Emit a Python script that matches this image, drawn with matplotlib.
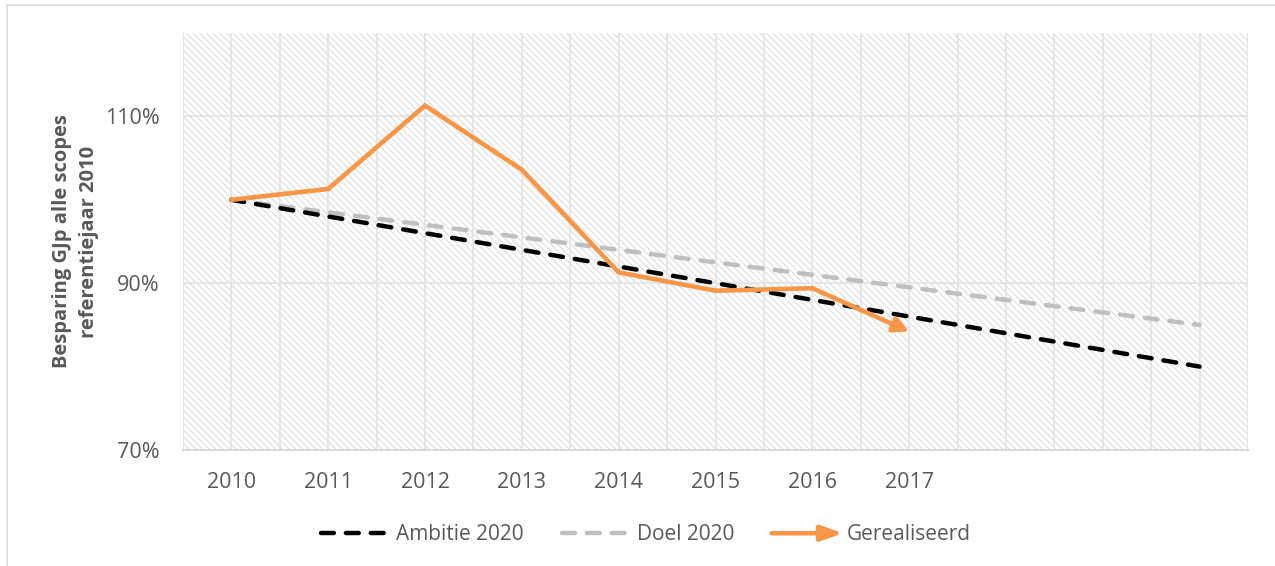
import matplotlib
matplotlib.use("Agg")
import matplotlib.pyplot as plt
from matplotlib.patches import Rectangle, FancyArrowPatch
from matplotlib.lines import Line2D
from matplotlib.legend_handler import HandlerPatch
import matplotlib.ticker as ticker

plt.rcParams["font.family"] = ["Open Sans", "DejaVu Sans"]
plt.rcParams["hatch.linewidth"] = 0.8

# ── data ────────────────────────────────────────────────────────────────
years        = ["2010", "2011", "2012", "2013", "2014", "2015",
                "2016", "2017", "2018", "2019", "2020"]
tick_labels  = ["2010", "2011", "2012", "2013", "2014", "2015", "2016", "2017"]
ambitie      = [100, 98, 96, 94, 92, 90, 88, 86, 84, 82, 80]
doel         = [100, 98.5, 97, 95.5, 94, 92.5, 91, 89.5, 88, 86.5, 85]
gerealiseerd = [100, 101.3, 111.3, 103.6, 91.3, 89.1, 89.4, 84.2]

ORANGE = "#F79646"
GRAY   = "#BFBFBF"
TEXT   = "#595959"
GRID   = "#E6E6E6"

fig = plt.figure(figsize=(12.75, 5.66), dpi=100, facecolor="white")
ax = fig.add_axes([183 / 1275, 116 / 566, 1065 / 1275, 417 / 566])

# outer chart frame (top and left edges visible)
fig.add_artist(Rectangle((7 / 1275, -0.05), 1.1, 1 - 5 / 566 + 0.05,
                         transform=fig.transFigure, fill=False,
                         edgecolor="#D9D9D9", linewidth=1.2))

n = len(years)
x = list(range(n))
ax.set_xlim(-0.5, n - 0.5)
ax.set_ylim(70, 120)

# hatched plot-area background
ax.add_patch(Rectangle((0, 0), 1, 1, transform=ax.transAxes,
                       facecolor="white", edgecolor="#DDDDDD",
                       hatch="\\\\\\\\\\", linewidth=0, zorder=0))

# gridlines
for gx in [i * 0.5 - 0.5 for i in range(2 * n + 1)]:
    ax.axvline(gx, color=GRID, linewidth=1.4, zorder=1)
for gy in [70, 90, 110]:
    ax.axhline(gy, color=GRID, linewidth=1.4, zorder=1)

for s in ["top", "right", "left"]:
    ax.spines[s].set_visible(False)
ax.spines["bottom"].set_color("#D9D9D9")
ax.spines["bottom"].set_linewidth(1.4)

dash_kw = dict(linewidth=3.2, dashes=(2.9, 2.7), dash_capstyle="round")
ax.plot(x, doel, color=GRAY, zorder=3, **dash_kw)
ax.plot(x, ambitie, color="black", zorder=4, **dash_kw)

gx_real = x[:len(gerealiseerd)]
ax.plot(gx_real[:-1], gerealiseerd[:-1], color=ORANGE, linewidth=3.3,
        solid_joinstyle="miter", solid_capstyle="round", zorder=5)
ax.annotate("", xy=(gx_real[-1], gerealiseerd[-1]),
            xytext=(gx_real[-2], gerealiseerd[-2]),
            arrowprops=dict(arrowstyle="-|>,head_length=0.9,head_width=0.45",
                            color=ORANGE, lw=3.3, shrinkA=0, shrinkB=0),
            zorder=5)

ax.set_xticks(range(len(tick_labels)))
ax.set_xticklabels(tick_labels)
ax.set_yticks([70, 90, 110])
ax.yaxis.set_major_formatter(ticker.FuncFormatter(lambda v, _: f"{v:.0f}%"))
ax.tick_params(axis="both", length=0, labelsize=15.5, colors=TEXT)
ax.tick_params(axis="x", pad=16)
ax.tick_params(axis="y", pad=17)

ax.set_ylabel("Besparing GJp alle scopes\nreferentiejaar 2010",
              fontsize=14.5, fontweight="bold", color=TEXT, labelpad=4,
              linespacing=1.45)


class HandlerArrow(HandlerPatch):
    def create_artists(self, legend, orig_handle, xdescent, ydescent,
                       width, height, fontsize, trans):
        y = height / 2 - ydescent
        arr = FancyArrowPatch((-xdescent, y), (width - xdescent + 5, y),
                              arrowstyle="-|>,head_length=13,head_width=4.6",
                              mutation_scale=1, color=ORANGE, lw=3.3,
                              shrinkA=0, shrinkB=0)
        arr.set_transform(trans)
        return [arr]


h_amb = Line2D([], [], color="black", **dash_kw)
h_doel = Line2D([], [], color=GRAY, **dash_kw)
h_real = FancyArrowPatch((0, 0), (1, 0), color=ORANGE)

fig.legend([h_amb, h_doel, h_real], ["Ambitie 2020", "Doel 2020", "Gerealiseerd"],
           handler_map={FancyArrowPatch: HandlerArrow()},
           loc="center", bbox_to_anchor=(646 / 1275, 31 / 566), ncol=3,
           frameon=False, fontsize=15, labelcolor=TEXT,
           handlelength=3.1, handletextpad=0.5, columnspacing=1.8)

fig.savefig("out.png", dpi=100, facecolor="white")
